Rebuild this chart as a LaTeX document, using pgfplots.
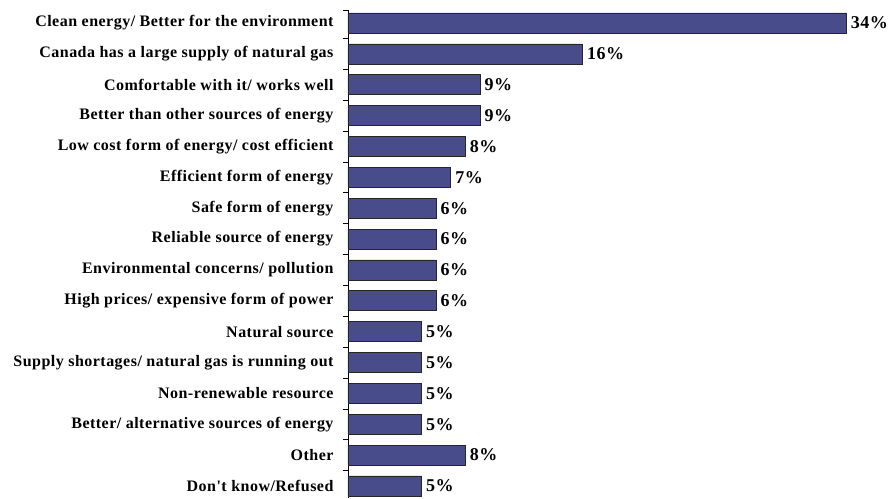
\documentclass[border=0pt]{standalone}
\usepackage{pgfplots}
\pgfplotsset{compat=1.18}
\usepackage{fontspec}
\setmainfont{Liberation Serif}
\newfontfamily\lblfont[LetterSpace=3]{Liberation Serif}
\usetikzlibrary{calc}
\definecolor{barblue}{RGB}{72,76,138}
\begin{document}
\begin{tikzpicture}
\begin{axis}[
  scale only axis,
  width=498bp, height=488bp,
  xmin=0, xmax=34,
  ymin=-0.42, ymax=15.39,
  y dir=reverse,
  axis x line=none,
  axis y line=left,
  axis line style={-, black, line width=0.8pt},
  xbar, bar width=20bp, bar shift=0pt,
  ytick={0,...,15},
  yticklabels={
    Clean energy/ Better for the environment,
    Canada has a large supply of natural gas,
    Comfortable with it/ works well,
    Better than other sources of energy,
    Low cost form of energy/ cost efficient,
    Efficient form of energy,
    Safe form of energy,
    Reliable source of energy,
    Environmental concerns/ pollution,
    High prices/ expensive form of power,
    Natural source,
    Supply shortages/ natural gas is running out,
    Non-renewable resource,
    Better/ alternative sources of energy,
    Other,
    Don't know/Refused},
  major tick length=0pt,
  minor ytick={-0.42,0.5,1.5,...,14.5},
  minor tick length=5bp,
  tick align=outside,
  minor tick style={black, line width=0.6pt},
  yticklabel style={font=\lblfont\fontsize{16bp}{18bp}\selectfont\bfseries, xshift=-11bp},
  /pgf/number format/assume math mode=true,
  nodes near coords={\pgfmathprintnumber{\pgfplotspointmeta}\%},
  nodes near coords style={font=\lblfont\fontsize{18bp}{20bp}\selectfont\bfseries, anchor=west, inner sep=2bp, xshift=2.5bp},
  point meta=x,
  clip=false,
]
\addplot[fill=barblue, draw=black!85, line width=0.6pt] coordinates {
  (34,0) (16,1) (9,2) (9,3) (8,4) (7,5) (6,6) (6,7) (6,8) (6,9)
  (5,10) (5,11) (5,12) (5,13) (8,14) (5,15)};
\end{axis}
\path[use as bounding box] ($(current axis.south west)+(-348bp,0)$) rectangle ($(current axis.north east)+(45bp,10bp)$);
\end{tikzpicture}
\end{document}
